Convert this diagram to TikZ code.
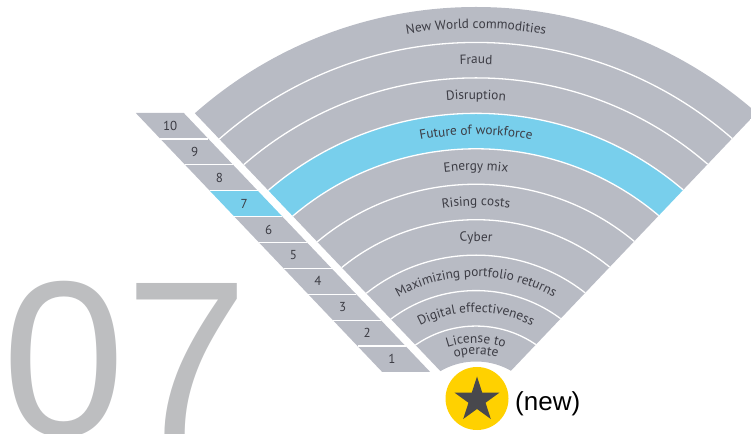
\documentclass[tikz,border=0pt]{standalone}
\usepackage{fontspec}
\setmainfont{PT Sans}
\newfontfamily\digitfont{Liberation Sans}
\usetikzlibrary{decorations.text, shapes.geometric, calc}
\definecolor{band}{HTML}{B8BBC4}
\definecolor{hl}{HTML}{78CFEC}
\definecolor{txt}{HTML}{3C3C44}
\definecolor{big}{HTML}{BDBEC0}
\definecolor{ey}{HTML}{FFD100}
\definecolor{stardark}{HTML}{48484D}
\newcommand\labfont{\fontsize{13.3}{15}\selectfont\color{txt}}
\newcommand\arclabel[2]{\path[decorate,decoration={text along path,text align=center,text={|\labfont|#2}}] (C) ++(165:#1pt) arc (165:15:#1pt);}
\tikzset{
  numlbl/.style={inner sep=0, text=txt, font=\fontsize{13}{15}\selectfont},
  sep/.style={white, line width=1.3pt}
}
\begin{document}
\begin{tikzpicture}[x=1pt,y=1pt]
\useasboundingbox (0,0) rectangle (751,433);
\coordinate (C) at (476,1);
\coordinate (A) at (475.5,25);
% big number
\node[anchor=base west, inner sep=0, text=big, font=\digitfont\fontsize{221}{221}\selectfont] (big07) at (2.5,-2) {07};
% fan
\begin{scope}
\clip (A) -- +(133.6:720pt) -- +(46.4:720pt) -- cycle;
\foreach \k in {1,...,10} {
  \pgfmathsetmacro\rin{70.5+35.45*(\k-1)}
  \pgfmathsetmacro\rout{70.5+35.45*\k}
  \ifnum\k=7 \def\bc{hl}\else\def\bc{band}\fi
  \fill[\bc, even odd rule] (C) circle (\rout pt) (C) circle (\rin pt);
}
\foreach \k in {1,...,9} {
  \pgfmathsetmacro\rr{70.5+35.45*\k}
  \draw[sep] (C) circle (\rr pt);
}
\end{scope}
% band labels
\arclabel{403.5}{New World commodities}
\arclabel{368}{Fraud}
\arclabel{332.6}{Disruption}
\arclabel{297.2}{Future of workforce}
\arclabel{261.7}{Energy mix}
\arclabel{226.2}{Rising costs}
\arclabel{190.7}{Cyber}
\arclabel{155.3}{Maximizing portfolio returns}
\arclabel{119.9}{Digital effectiveness}
\arclabel{89}{License to}
\arclabel{77.5}{operate}
% number strip
\coordinate (LT) at (135.8,320);
\coordinate (LB) at (382.2,61);
\coordinate (RT) at (183.8,320);
\coordinate (RB) at (430.2,61);
\foreach \k in {1,...,10} {
  \pgfmathsetmacro\ta{(\k-1)/10}
  \pgfmathsetmacro\tb{\k/10}
  \pgfmathsetmacro\tm{(\k-0.5)/10}
  \ifnum\k=7 \def\bc{hl}\else\def\bc{band}\fi
  \fill[\bc] ($(LB)!\ta!(LT)$) -- ($(RB)!\ta!(RT)$) -- ($(RB)!\tb!(RT)$) -- ($(LB)!\tb!(LT)$) -- cycle;
  \node[numlbl] (n\k) at ($($(LB)!\tm!(LT)$)!0.5!($(RB)!\tm!(RT)$)+(-2,0)$) {\k};
}
\foreach \k in {1,...,9} {
  \pgfmathsetmacro\ta{\k/10}
  \draw[sep] ($(LB)!\ta!(LT)$) -- ($(RB)!\ta!(RT)$);
}
% new badge
\node[circle, fill=ey, minimum size=63pt, inner sep=0] (badge) at (477,34.5) {};
\node[star, star points=5, star point ratio=2.618, minimum size=47pt, fill=stardark, inner sep=0] (star) at (477,33) {};
\node[anchor=base west, inner sep=0, font=\digitfont\fontsize{26}{26}\selectfont] (newlbl) at (515,23) {(new)};
\end{tikzpicture}
\end{document}
